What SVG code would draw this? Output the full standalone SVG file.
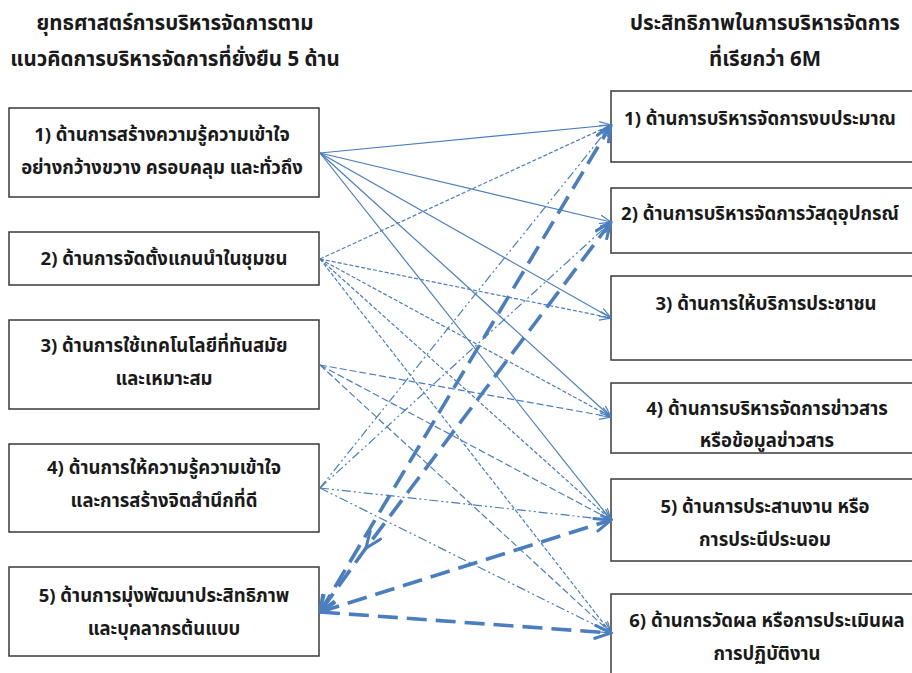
<svg xmlns="http://www.w3.org/2000/svg" width="912" height="673" viewBox="0 0 912 673">
<style>
.box{fill:#fff;stroke:#3a3a3a;stroke-width:1.5}
.t{font-family:"Noto Sans Thai","Leelawadee UI",Tahoma,"Noto Sans","DejaVu Sans",sans-serif;font-size:18.5px;font-weight:bold;fill:#1a1a1a;text-anchor:middle}
.h{font-size:20.5px}
.c{fill:none;stroke:#4a7ebf}
.s1{stroke-width:1.2}
.s2{stroke-width:1.2;stroke-dasharray:4 2}
.s3{stroke-width:1.2;stroke-dasharray:7 3}
.s4{stroke-width:1.2;stroke-dasharray:9 3 2 3 2 3}
.s5{stroke-width:3.6;stroke-dasharray:20 9}
</style>
<defs>
<marker id="a" markerUnits="userSpaceOnUse" viewBox="0 0 12 10" refX="11.5" refY="5" markerWidth="12" markerHeight="10" orient="auto-start-reverse">
<path d="M0,0.5 L11.5,5 L0,9.5" fill="none" stroke="#4a7ebf" stroke-width="1.2"/>
</marker>
<marker id="b" markerUnits="userSpaceOnUse" viewBox="0 0 20 16" refX="18" refY="8" markerWidth="20" markerHeight="16" orient="auto-start-reverse">
<path d="M1,1 L18,8 L1,15" fill="none" stroke="#4a7ebf" stroke-width="3"/>
</marker>
</defs>
<rect width="912" height="673" fill="#fff"/>
<g id="titles">
<text class="t h" x="175" y="30">ยุทธศาสตร์การบริหารจัดการตาม</text>
<text class="t h" x="175" y="66">แนวคิดการบริหารจัดการที่ยั่งยืน 5 ด้าน</text>
<text class="t h" x="765" y="30">ประสิทธิภาพในการบริหารจัดการ</text>
<text class="t h" x="765" y="66">ที่เรียกว่า 6M</text>
</g>
<g id="L1"><rect class="box" x="9" y="108" width="310" height="89"/>
<text class="t" x="162" y="141">1) ด้านการสร้างความรู้ความเข้าใจ</text>
<text class="t" x="162" y="174">อย่างกว้างขวาง ครอบคลุม และทั่วถึง</text></g>
<g id="L2"><rect class="box" x="9" y="232" width="310" height="53"/>
<text class="t" x="164" y="265">2) ด้านการจัดตั้งแกนนำในชุมชน</text></g>
<g id="L3"><rect class="box" x="9" y="320" width="310" height="89"/>
<text class="t" x="164" y="352">3) ด้านการใช้เทคโนโลยีที่ทันสมัย</text>
<text class="t" x="164" y="385">และเหมาะสม</text></g>
<g id="L4"><rect class="box" x="9" y="444" width="310" height="88"/>
<text class="t" x="164" y="474">4) ด้านการให้ความรู้ความเข้าใจ</text>
<text class="t" x="164" y="507">และการสร้างจิตสำนึกที่ดี</text></g>
<g id="L5"><rect class="box" x="9" y="567" width="310" height="89"/>
<text class="t" x="164" y="602">5) ด้านการมุ่งพัฒนาประสิทธิภาพ</text>
<text class="t" x="164" y="635">และบุคลากรต้นแบบ</text></g>
<g id="R1"><rect class="box" x="611" y="91" width="310" height="71"/>
<text class="t" x="760" y="125">1) ด้านการบริหารจัดการงบประมาณ</text></g>
<g id="R2"><rect class="box" x="611" y="188" width="310" height="65"/>
<text class="t" x="760" y="220">2) ด้านการบริหารจัดการวัสดุอุปกรณ์</text></g>
<g id="R3"><rect class="box" x="611" y="276" width="310" height="84"/>
<text class="t" x="766" y="310">3) ด้านการให้บริการประชาชน</text></g>
<g id="R4"><rect class="box" x="611" y="383" width="310" height="70"/>
<text class="t" x="767" y="415">4) ด้านการบริหารจัดการข่าวสาร</text>
<text class="t" x="767" y="447">หรือข้อมูลข่าวสาร</text></g>
<g id="R5"><rect class="box" x="611" y="479" width="310" height="82"/>
<text class="t" x="765" y="513">5) ด้านการประสานงาน หรือ</text>
<text class="t" x="765" y="546">การประนีประนอม</text></g>
<g id="R6"><rect class="box" x="611" y="594" width="310" height="90"/>
<text class="t" x="767" y="627">6) ด้านการวัดผล หรือการประเมินผล</text>
<text class="t" x="767" y="660">การปฏิบัติงาน</text></g>
<g id="connectors">
<g class="c s1" marker-end="url(#a)">
<path d="M320,153 L611,125"/><path d="M320,153 L611,222"/><path d="M320,153 L611,318"/><path d="M320,153 L611,417"/><path d="M320,153 L611,520"/>
</g>
<g class="c s2" marker-end="url(#a)">
<path d="M320,259 L611,125"/><path d="M320,259 L611,318"/><path d="M320,259 L611,417"/><path d="M320,259 L611,520"/><path d="M320,259 L611,633"/>
</g>
<g class="c s3" marker-end="url(#a)">
<path d="M320,365 L611,417"/><path d="M320,365 L611,520"/><path d="M320,365 L611,633"/>
</g>
<g class="c s4" marker-end="url(#a)">
<path d="M320,488 L611,125"/><path d="M320,488 L611,222"/><path d="M320,488 L611,520"/><path d="M320,488 L611,633"/>
</g>
<g class="c s5">
<path d="M320,612 L611,125" marker-start="url(#b)" marker-end="url(#b)"/>
<path d="M611,222 L366,548 L320,612" marker-start="url(#b)" marker-mid="url(#b)" marker-end="url(#b)"/>
<path d="M320,612 L611,520" marker-end="url(#b)"/>
<path d="M320,612 L611,633" marker-end="url(#b)"/>
</g>
</g>
</svg>
